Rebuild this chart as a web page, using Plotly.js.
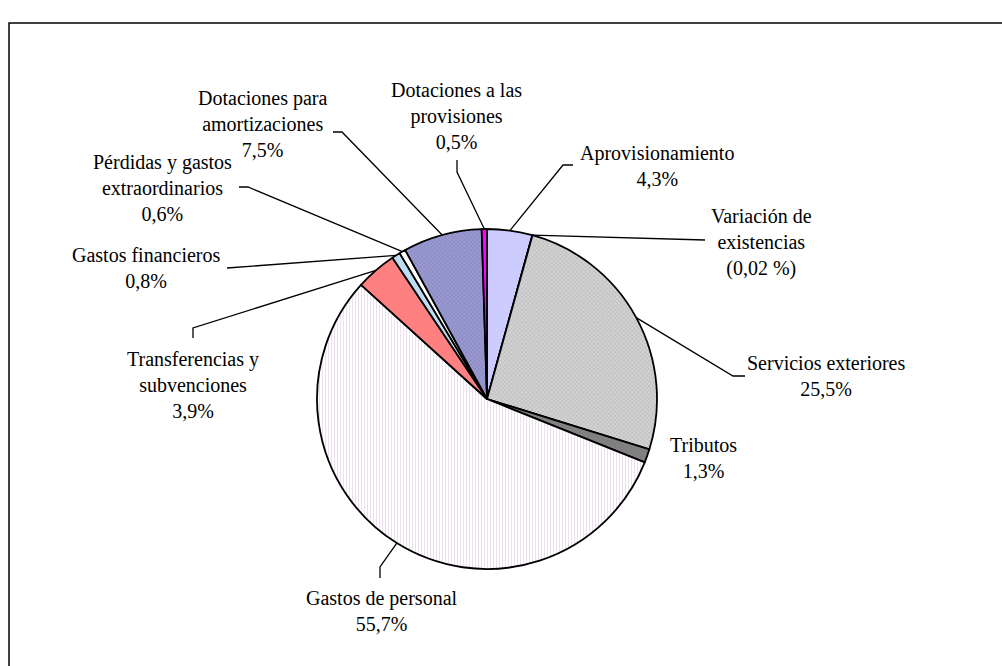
<!DOCTYPE html>
<html>
<head>
<meta charset="utf-8">
<script src="https://cdn.plot.ly/plotly-3.0.1.min.js"></script>
<style>html,body{margin:0;padding:0;background:#fff;}#chart{width:1002px;height:666px;}</style>
</head>
<body>
<div id="chart"></div>
<script>
// ---- data ----
const categories = [
  "Aprovisionamiento",
  "Variación de existencias",
  "Servicios exteriores",
  "Tributos",
  "Gastos de personal",
  "Transferencias y subvenciones",
  "Gastos financieros",
  "Pérdidas y gastos extraordinarios",
  "Dotaciones para amortizaciones",
  "Dotaciones a las provisiones"
];
const values = [4.3, 0.02, 25.5, 1.3, 55.7, 3.9, 0.8, 0.6, 7.5, 0.5];
const labelTexts = [
  "Aprovisionamiento<br>4,3%",
  "Variación de<br>existencias<br>(0,02 %)",
  "Servicios exteriores<br>25,5%",
  "Tributos<br>1,3%",
  "Gastos de personal<br>55,7%",
  "Transferencias y<br>subvenciones<br>3,9%",
  "Gastos financieros<br>0,8%",
  "Pérdidas y gastos<br>extraordinarios<br>0,6%",
  "Dotaciones para<br>amortizaciones<br>7,5%",
  "Dotaciones a las<br>provisiones<br>0,5%"
];

// ---- layout / style (pixels) ----
const W = 1002, H = 666;
const CX = 487, CY = 399, R = 170;
const colors = ["#CCCCFF", "#FFFFFF", "#C6C6C6", "#808080", "#F7F0F7",
                "#FF8080", "#BFDDF2", "#FFFFFF", "#8E8EC8", "#FF00FF"];
// label text centers
const labelPos = [[657,166],[761,242],[826,376],[703,458],[382,611],
                  [193,385],[146,268],[162,188],[263,124],[456,116]];
// leader elbows (from label side toward slice)
const leaders = [
  [[573,165],[563,165]],
  [[705,240]],
  [[745,376],[733,376]],
  null,
  [[380,578],[380,567]],
  [[193,338],[193,328]],
  [[227,268]],
  [[239,187],[248,187]],
  [[333,132],[342,132]],
  [[457,160],[457,172]]
];

const px = x => x / W;
const py = y => 1 - y / H;

const total = values.reduce((a,b)=>a+b,0);
let cum = 0;
const shapes = [];
const annotations = [];
values.forEach((v,i) => {
  const mid = (cum + v/2) / total * 2 * Math.PI;
  cum += v;
  const ex = CX + R * Math.sin(mid);
  const ey = CY - R * Math.cos(mid);
  if (leaders[i]) {
    const pts = leaders[i].concat([[ex,ey]]);
    let path = "M" + pts.map(p => px(p[0]).toFixed(5) + "," + py(p[1]).toFixed(5)).join(" L");
    shapes.push({type:"path", xref:"paper", yref:"paper", path:path,
      line:{color:"#000", width:1.3}});
  }
  annotations.push({
    xref:"paper", yref:"paper", x:px(labelPos[i][0]), y:py(labelPos[i][1]),
    xanchor:"center", yanchor:"middle", showarrow:false, align:"center",
    text: labelTexts[i],
    font:{family:"Liberation Serif, Times New Roman, serif", size:20, color:"#000"}
  });
});

// outer border box
shapes.push({type:"rect", xref:"paper", yref:"paper",
  x0:px(9), x1:1.02, y0:-0.02, y1:py(23), line:{color:"#000", width:1.5}, layer:"below"});

const trace = {
  type:"pie",
  labels: categories,
  values: values,
  sort:false,
  direction:"clockwise",
  rotation:0,
  textinfo:"none",
  hoverinfo:"label+percent",
  marker:{
    colors: colors,
    line:{color:"#000", width:1.8},
    pattern:{
      shape:["", "", "x", "", "|", "", "", "", "x", ""],
      fgcolor:["", "", "#B2B2B2", "", "#EADCEC", "", "", "", "#7E7EBC", ""],
      bgcolor:["", "", "#D2D2D2", "", "#FFFFFF", "", "", "", "#9A9AD0", ""],
      size:3, solidity:0.3
    }
  },
  domain:{x:[(CX-R)/W,(CX+R)/W], y:[1-(CY+R)/H, 1-(CY-R)/H]},
  showlegend:false
};

Plotly.newPlot("chart", [trace], {
  width:W, height:H,
  margin:{l:0,r:0,t:0,b:0},
  paper_bgcolor:"#fff",
  showlegend:false,
  shapes: shapes,
  annotations: annotations
}, {staticPlot:true});
</script>
</body>
</html>
